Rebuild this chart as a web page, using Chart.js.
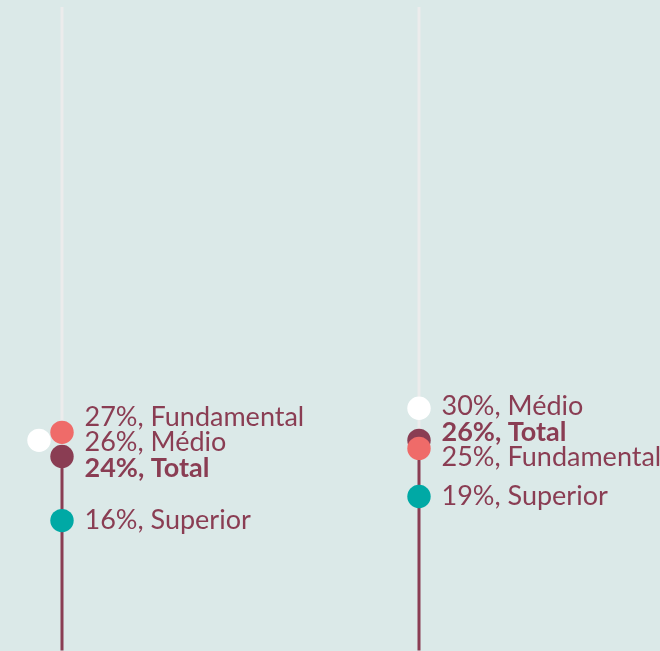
<!DOCTYPE html>
<html>
<head>
<meta charset="utf-8">
<script src="https://cdn.jsdelivr.net/npm/chart.js@4"></script>
<style>
  html, body { margin: 0; padding: 0; background: #dbe9e8; }
  #wrap { width: 660px; height: 651px; }
</style>
</head>
<body>
<div id="wrap"><canvas id="grafico"></canvas></div>
<script>
// Dados (em %)
const colunas = [0, 1];
const series = ['Fundamental', 'Médio', 'Total', 'Superior'];
const fundamental = [27, 25];
const medio = [26, 30];
const total = [24, 26];
const superior = [16, 19];
const eixoMax = 80;

const cores = {
  Fundamental: '#ef6b69',
  'Médio': '#ffffff',
  Total: '#8a3d53',
  Superior: '#00a9a5'
};
const valores = { Fundamental: fundamental, 'Médio': medio, Total: total, Superior: superior };
// ordem de desenho (menor = por cima)
const ordem = { Fundamental: 1, Total: 2, 'Médio': 3, Superior: 4 };

const datasets = [];

// linhas: branca do topo até o total, bordô do total até zero
colunas.forEach((c, i) => {
  datasets.push({
    type: 'line',
    data: [{ x: c, y: eixoMax }, { x: c, y: total[i] }],
    borderColor: '#ececec',
    borderWidth: 3,
    pointRadius: 0,
    order: 10
  });
  datasets.push({
    type: 'line',
    data: [{ x: c, y: total[i] }, { x: c, y: 0 }],
    borderColor: '#8a3d53',
    borderWidth: 3,
    borderCapStyle: 'square',
    pointRadius: 0,
    order: 9
  });
});

series.forEach(s => {
  datasets.push({
    label: s,
    data: colunas.map((c, i) => ({ x: c, y: valores[s][i] })),
    backgroundColor: cores[s],
    borderWidth: 0,
    pointRadius: 11.7,
    pointHoverRadius: 11.7,
    order: ordem[s]
  });
});

// desloca o ponto branco da primeira coluna para a esquerda
const desvio = { serie: 'Médio', coluna: 0, px: -23 };

const pluginDesvio = {
  id: 'desvio',
  afterDatasetsUpdate(chart) {
    chart.data.datasets.forEach((ds, di) => {
      if (ds.label !== desvio.serie) return;
      const el = chart.getDatasetMeta(di).data[desvio.coluna];
      el.x += desvio.px;
    });
  }
};

// rótulos à direita, afastados para não sobrepor
const pluginRotulos = {
  id: 'rotulos',
  afterDraw(chart) {
    const { ctx, scales } = chart;
    const passo = 25.5;
    colunas.forEach((c, i) => {
      const itens = series.map(s => ({
        s, v: valores[s][i], ideal: scales.y.getPixelForValue(valores[s][i])
      })).sort((a, b) => a.ideal - b.ideal);

      // agrupar e centralizar
      let grupos = itens.map(it => ({ itens: [it], centro: it.ideal }));
      let mudou = true;
      while (mudou) {
        mudou = false;
        for (let g = 0; g < grupos.length - 1; g++) {
          const a = grupos[g], b = grupos[g + 1];
          const fimA = a.centro + (a.itens.length - 1) * passo / 2;
          const iniB = b.centro - (b.itens.length - 1) * passo / 2;
          if (iniB - fimA < passo) {
            const todos = a.itens.concat(b.itens);
            const media = todos.reduce((t, it) => t + it.ideal, 0) / todos.length;
            grupos.splice(g, 2, { itens: todos, centro: media });
            mudou = true;
            break;
          }
        }
      }

      const x = scales.x.getPixelForValue(c) + 22.5;
      ctx.save();
      ctx.fillStyle = '#8a3d53';
      ctx.textBaseline = 'middle';
      ctx.textAlign = 'left';
      grupos.forEach(g => {
        g.itens.forEach((it, k) => {
          const y = g.centro + (k - (g.itens.length - 1) / 2) * passo;
          const negrito = it.s === 'Total';
          ctx.font = (negrito ? 'bold ' : '') + '27px Lato, "Noto Sans", sans-serif';
          ctx.fillText(it.v + '%, ' + it.s, x, y - 0.5);
        });
      });
      ctx.restore();
    });
  }
};

new Chart(document.getElementById('grafico'), {
  type: 'scatter',
  data: { datasets },
  options: {
    responsive: true,
    maintainAspectRatio: false,
    animation: false,
    layout: { padding: 0, autoPadding: false },
    plugins: { legend: { display: false }, tooltip: { enabled: false } },
    scales: {
      x: { type: 'linear', display: false, min: -62 / 357, max: (660 - 62) / 357 },
      y: { type: 'linear', display: false, min: -2 / 8.025, max: eixoMax + 7 / 8.025 }
    }
  },
  plugins: [pluginDesvio, pluginRotulos]
});
</script>
</body>
</html>
